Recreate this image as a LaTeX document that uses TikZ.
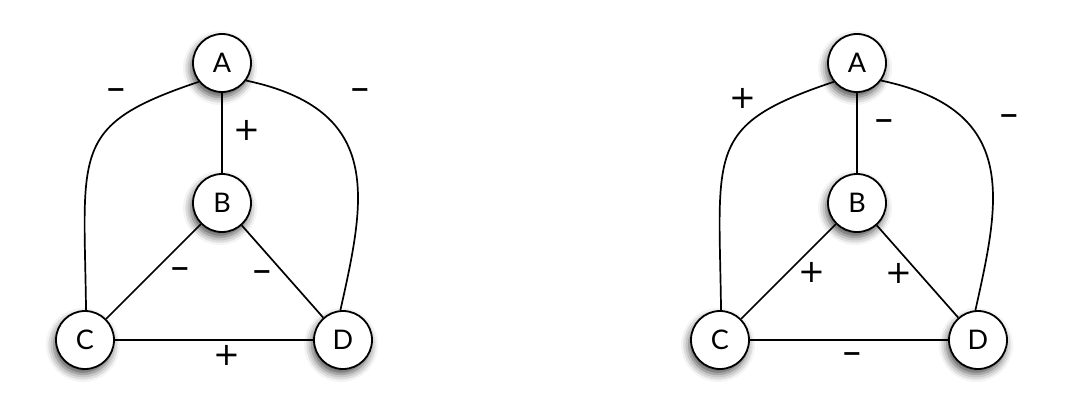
\documentclass[tikz,border=0pt]{standalone}
\usepackage{fontspec}
\setmainfont{Lato}
\newfontfamily\signfont{DejaVu Sans}
\usetikzlibrary{shadows.blur}
\tikzset{
  vert/.style={circle, draw=black, line width=1.8pt, fill=white, minimum size=58pt, inner sep=0pt,
    font=\fontsize{27}{27}\selectfont,
    blur shadow={shadow xshift=-2pt, shadow yshift=-5pt, shadow blur radius=8pt, shadow opacity=70}},
  edge/.style={line width=1.7pt, black},
  pls/.style={font=\signfont\fontsize{32}{32}\selectfont, inner sep=0pt},
  mns/.style={font=\signfont\bfseries\fontsize{24}{24}\selectfont, inner sep=0pt}
}
\begin{document}
\begin{tikzpicture}[x=1pt,y=-1pt]
\useasboundingbox (0,0) rectangle (1070,401);
% left graph
\begin{scope}
\node[vert] (A1) at (222,63) {A};
\node[vert] (B1) at (222,203) {B};
\node[vert] (C1) at (85,340) {C};
\node[vert] (D1) at (343,340) {D};
\draw[edge] (A1) -- (B1);
\draw[edge] (B1) -- (C1);
\draw[edge] (B1) -- (D1);
\draw[edge] (C1) -- (D1);
\draw[edge] (A1.219) .. controls (70,125) and (84,150) .. (C1.88);
\draw[edge] (A1.-36) .. controls (385,110) and (365,200) .. (D1.95);
\node[mns] (l1) at (116,93) {−};
\node[mns] (l2) at (360,93) {−};
\node[pls] (l3) at (247,130) {+};
\node[mns] (l4) at (180,272) {−};
\node[mns] (l5) at (262,275) {−};
\node[pls] (l6) at (227,355) {+};
\end{scope}
% right graph
\begin{scope}[xshift=635pt]
\node[vert] (A2) at (222,63) {A};
\node[vert] (B2) at (222,203) {B};
\node[vert] (C2) at (85,340) {C};
\node[vert] (D2) at (343,340) {D};
\draw[edge] (A2) -- (B2);
\draw[edge] (B2) -- (C2);
\draw[edge] (B2) -- (D2);
\draw[edge] (C2) -- (D2);
\draw[edge] (A2.219) .. controls (70,125) and (84,150) .. (C2.88);
\draw[edge] (A2.-36) .. controls (385,110) and (365,200) .. (D2.95);
\node[pls] (r1) at (108,98) {+};
\node[mns] (r2) at (249,124) {−};
\node[mns] (r3) at (374,119) {−};
\node[pls] (r4) at (177,272) {+};
\node[pls] (r5) at (264,273) {+};
\node[mns] (r6) at (217,357) {−};
\end{scope}
\end{tikzpicture}
\end{document}
